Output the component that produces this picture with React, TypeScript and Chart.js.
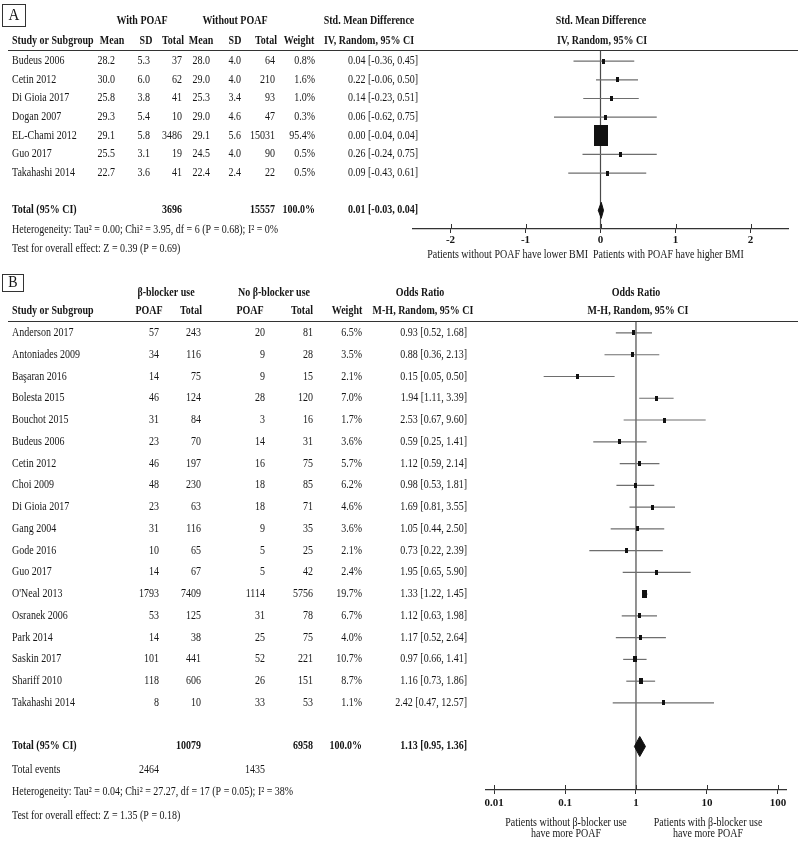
import React, { useEffect, useRef } from 'react';
import { Chart, registerables } from 'chart.js';

Chart.register(...registerables);

const FONT = '"Liberation Serif", "Times New Roman", serif';
const TEXT = '#161616';

// ---------- Panel A data ----------
const studiesA = ['Budeus 2006', 'Cetin 2012', 'Di Gioia 2017', 'Dogan 2007', 'EL-Chami 2012', 'Guo 2017', 'Takahashi 2014'];
const meanWith = [28.2, 30.0, 25.8, 29.3, 29.1, 25.5, 22.7];
const sdWith = [5.3, 6.0, 3.8, 5.4, 5.8, 3.1, 3.6];
const totalWith = [37, 62, 41, 10, 3486, 19, 41];
const meanWithout = [28.0, 29.0, 25.3, 29.0, 29.1, 24.5, 22.4];
const sdWithout = [4.0, 4.0, 3.4, 4.6, 5.6, 4.0, 2.4];
const totalWithout = [64, 210, 93, 47, 15031, 90, 22];
const weightA = [0.8, 1.6, 1.0, 0.3, 95.4, 0.5, 0.5];
const smd = [0.04, 0.22, 0.14, 0.06, 0.0, 0.26, 0.09];
const smdLo = [-0.36, -0.06, -0.23, -0.62, -0.04, -0.24, -0.43];
const smdHi = [0.45, 0.5, 0.51, 0.75, 0.04, 0.75, 0.61];
const totalA = { withN: 3696, withoutN: 15557, weight: 100.0, est: 0.01, lo: -0.03, hi: 0.04 };
const ticksA = [-2, -1, 0, 1, 2];
const hetA = 'Heterogeneity: Tau² = 0.00; Chi² = 3.95, df = 6 (P = 0.68); I² = 0%';
const testA = 'Test for overall effect: Z = 0.39 (P = 0.69)';

// ---------- Panel B data ----------
const studiesB = ['Anderson 2017', 'Antoniades 2009', 'Başaran 2016', 'Bolesta 2015', 'Bouchot 2015', 'Budeus 2006', 'Cetin 2012', 'Choi 2009', 'Di Gioia 2017', 'Gang 2004', 'Gode 2016', 'Guo 2017', "O'Neal 2013", 'Osranek 2006', 'Park 2014', 'Saskin 2017', 'Shariff 2010', 'Takahashi 2014'];
const bbPoaf = [57, 34, 14, 46, 31, 23, 46, 48, 23, 31, 10, 14, 1793, 53, 14, 101, 118, 8];
const bbTotal = [243, 116, 75, 124, 84, 70, 197, 230, 63, 116, 65, 67, 7409, 125, 38, 441, 606, 10];
const noPoaf = [20, 9, 9, 28, 3, 14, 16, 18, 18, 9, 5, 5, 1114, 31, 25, 52, 26, 33];
const noTotal = [81, 28, 15, 120, 16, 31, 75, 85, 71, 35, 25, 42, 5756, 78, 75, 221, 151, 53];
const weightB = [6.5, 3.5, 2.1, 7.0, 1.7, 3.6, 5.7, 6.2, 4.6, 3.6, 2.1, 2.4, 19.7, 6.7, 4.0, 10.7, 8.7, 1.1];
const oddsR = [0.93, 0.88, 0.15, 1.94, 2.53, 0.59, 1.12, 0.98, 1.69, 1.05, 0.73, 1.95, 1.33, 1.12, 1.17, 0.97, 1.16, 2.42];
const oddsLo = [0.52, 0.36, 0.05, 1.11, 0.67, 0.25, 0.59, 0.53, 0.81, 0.44, 0.22, 0.65, 1.22, 0.63, 0.52, 0.66, 0.73, 0.47];
const oddsHi = [1.68, 2.13, 0.5, 3.39, 9.6, 1.41, 2.14, 1.81, 3.55, 2.5, 2.39, 5.9, 1.45, 1.98, 2.64, 1.41, 1.86, 12.57];
const totalB = { bbN: 10079, noN: 6958, weight: 100.0, est: 1.13, lo: 0.95, hi: 1.36, bbEvents: 2464, noEvents: 1435 };
const ticksB = [0.01, 0.1, 1, 10, 100];
const hetB = 'Heterogeneity: Tau² = 0.04; Chi² = 27.27, df = 17 (P = 0.05); I² = 38%';
const testB = 'Test for overall effect: Z = 1.35 (P = 0.18)';

// ---------- helpers ----------
function txt(ctx: CanvasRenderingContext2D, s: string, x: number, y: number, align: CanvasTextAlign = 'left', bold = false, size = 10) {
  ctx.save();
  ctx.font = `${bold ? 'bold ' : ''}${size}px ${FONT}`;
  ctx.fillStyle = TEXT;
  ctx.textAlign = align;
  ctx.textBaseline = 'middle';
  ctx.translate(x, y);
  ctx.scale(1, 1.15);
  ctx.fillText(s, 0, 0);
  ctx.restore();
}

function hline(ctx: CanvasRenderingContext2D, x1: number, x2: number, y: number, color = '#333', w = 1) {
  ctx.save();
  ctx.strokeStyle = color;
  ctx.lineWidth = w;
  ctx.beginPath();
  ctx.moveTo(x1, y);
  ctx.lineTo(x2, y);
  ctx.stroke();
  ctx.restore();
}

function boxImg(weight: number, k: number) {
  const w = Math.max(3, Math.round(k * Math.sqrt(weight)));
  const h = Math.max(4, Math.round(w * 1.5));
  const c = document.createElement('canvas');
  c.width = w;
  c.height = h;
  const g = c.getContext('2d')!;
  g.fillStyle = '#111';
  g.fillRect(0, 0, w, h);
  return c;
}

const f1 = (v: number) => v.toFixed(1);
const f2 = (v: number) => v.toFixed(2);
const ci = (e: number, l: number, h: number) => `${f2(e)} [${f2(l)}, ${f2(h)}]`;

// draws small tick marks above the axis line as well (ticks cross the axis)
const crossTicks = {
  id: 'crossTicks',
  afterDraw(chart: any) {
    const ctx = chart.ctx;
    const xs = chart.scales.x;
    const yb = chart.chartArea.bottom;
    ctx.save();
    ctx.strokeStyle = '#333';
    ctx.lineWidth = 1;
    xs.ticks.forEach((t: any) => {
      const px = Math.round(xs.getPixelForValue(t.value)) + 0.5;
      ctx.beginPath();
      ctx.moveTo(px, yb - 5);
      ctx.lineTo(px, yb);
      ctx.stroke();
    });
    ctx.restore();
  },
};

const tableA = {
  id: 'tableA',
  afterDraw(chart: any) {
    const ctx: CanvasRenderingContext2D = chart.ctx;
    const ys = chart.scales.y;
    const top = chart.chartArea.top;
    ctx.save();
    ctx.strokeStyle = '#333';
    ctx.lineWidth = 1;
    ctx.strokeRect(2.5, 4.5, 23, 22);
    ctx.restore();
    txt(ctx, 'A', 14, 15.5, 'center', false, 15);
    txt(ctx, 'With POAF', 142, 21.5, 'center', true);
    txt(ctx, 'Without POAF', 235, 21.5, 'center', true);
    txt(ctx, 'Std. Mean Difference', 369, 21.5, 'center', true);
    txt(ctx, 'Std. Mean Difference', 601, 21.5, 'center', true);
    const h2 = 41;
    txt(ctx, 'Study or Subgroup', 12, h2, 'left', true);
    txt(ctx, 'Mean', 112, h2, 'center', true);
    txt(ctx, 'SD', 146, h2, 'center', true);
    txt(ctx, 'Total', 173, h2, 'center', true);
    txt(ctx, 'Mean', 201, h2, 'center', true);
    txt(ctx, 'SD', 235, h2, 'center', true);
    txt(ctx, 'Total', 266, h2, 'center', true);
    txt(ctx, 'Weight', 299, h2, 'center', true);
    txt(ctx, 'IV, Random, 95% CI', 369, h2, 'center', true);
    txt(ctx, 'IV, Random, 95% CI', 602, h2, 'center', true);
    hline(ctx, 8, 798, Math.round(top) + 0.5, '#333', 1.2);
    studiesA.forEach((s, i) => {
      const y = ys.getPixelForValue(i);
      txt(ctx, s, 12, y);
      txt(ctx, f1(meanWith[i]), 115, y, 'right');
      txt(ctx, f1(sdWith[i]), 150, y, 'right');
      txt(ctx, String(totalWith[i]), 182, y, 'right');
      txt(ctx, f1(meanWithout[i]), 210, y, 'right');
      txt(ctx, f1(sdWithout[i]), 241, y, 'right');
      txt(ctx, String(totalWithout[i]), 275, y, 'right');
      txt(ctx, f1(weightA[i]) + '%', 315, y, 'right');
      txt(ctx, ci(smd[i], smdLo[i], smdHi[i]), 418, y, 'right');
    });
    const ty = ys.getPixelForValue(studiesA.length + 1);
    txt(ctx, 'Total (95% CI)', 12, ty, 'left', true);
    txt(ctx, String(totalA.withN), 182, ty, 'right', true);
    txt(ctx, String(totalA.withoutN), 275, ty, 'right', true);
    txt(ctx, f1(totalA.weight) + '%', 315, ty, 'right', true);
    txt(ctx, ci(totalA.est, totalA.lo, totalA.hi), 418, ty, 'right', true);
    txt(ctx, hetA, 12, ty + 20);
    txt(ctx, testA, 12, ty + 39);
    txt(ctx, 'Patients without POAF have lower BMI', 588, 255, 'right');
    txt(ctx, 'Patients with POAF have higher BMI', 593, 255, 'left');
  },
};

const tableB = {
  id: 'tableB',
  afterDraw(chart: any) {
    const ctx: CanvasRenderingContext2D = chart.ctx;
    const ys = chart.scales.y;
    const top = chart.chartArea.top;
    ctx.save();
    ctx.strokeStyle = '#333';
    ctx.lineWidth = 1;
    ctx.strokeRect(2.5, 12.5, 21, 17);
    ctx.restore();
    txt(ctx, 'B', 13, 21, 'center', false, 14);
    const h1 = 31;
    txt(ctx, 'β-blocker use', 166, h1, 'center', true);
    txt(ctx, 'No β-blocker use', 274, h1, 'center', true);
    txt(ctx, 'Odds Ratio', 420, h1, 'center', true);
    txt(ctx, 'Odds Ratio', 636, h1, 'center', true);
    const h2 = 49;
    txt(ctx, 'Study or Subgroup', 12, h2, 'left', true);
    txt(ctx, 'POAF', 149, h2, 'center', true);
    txt(ctx, 'Total', 191, h2, 'center', true);
    txt(ctx, 'POAF', 250, h2, 'center', true);
    txt(ctx, 'Total', 302, h2, 'center', true);
    txt(ctx, 'Weight', 347, h2, 'center', true);
    txt(ctx, 'M-H, Random, 95% CI', 423, h2, 'center', true);
    txt(ctx, 'M-H, Random, 95% CI', 638, h2, 'center', true);
    hline(ctx, 8, 798, Math.round(top) + 0.5, '#333', 1.2);
    studiesB.forEach((s, i) => {
      const y = ys.getPixelForValue(i);
      txt(ctx, s, 12, y);
      txt(ctx, String(bbPoaf[i]), 159, y, 'right');
      txt(ctx, String(bbTotal[i]), 201, y, 'right');
      txt(ctx, String(noPoaf[i]), 265, y, 'right');
      txt(ctx, String(noTotal[i]), 313, y, 'right');
      txt(ctx, f1(weightB[i]) + '%', 362, y, 'right');
      txt(ctx, ci(oddsR[i], oddsLo[i], oddsHi[i]), 467, y, 'right');
    });
    const ty = ys.getPixelForValue(studiesB.length + 1);
    txt(ctx, 'Total (95% CI)', 12, ty, 'left', true);
    txt(ctx, String(totalB.bbN), 201, ty, 'right', true);
    txt(ctx, String(totalB.noN), 313, ty, 'right', true);
    txt(ctx, f1(totalB.weight) + '%', 362, ty, 'right', true);
    txt(ctx, ci(totalB.est, totalB.lo, totalB.hi), 467, ty, 'right', true);
    txt(ctx, 'Total events', 12, ty + 24);
    txt(ctx, String(totalB.bbEvents), 159, ty + 24, 'right');
    txt(ctx, String(totalB.noEvents), 265, ty + 24, 'right');
    txt(ctx, hetB, 12, ty + 46);
    txt(ctx, testB, 12, ty + 70);
    txt(ctx, 'Patients without β-blocker use', 566, 561, 'center');
    txt(ctx, 'have more POAF', 566, 572, 'center');
    txt(ctx, 'Patients with β-blocker use', 708, 561, 'center');
    txt(ctx, 'have more POAF', 708, 572, 'center');
  },
};

function forestConfig(opts: {
  names: string[]; est: number[]; lo: number[]; hi: number[]; weights: number[]; k: number;
  total: { est: number; lo: number; hi: number }; ref: number; yMin: number; yMax: number; dh: number;
  xScale: any; padding: any; axisH: number; tickPad: number; tableP: any;
}) {
  const n = opts.names.length;
  const tIdx = n + 1;
  const boxes = opts.weights.map((w) => boxImg(w, opts.k));
  const datasets: any[] = [
    {
      type: 'line',
      order: 10,
      data: [{ x: opts.ref, y: opts.yMin }, { x: opts.ref, y: opts.yMax }],
      borderColor: '#4a4a4a', borderWidth: 1.2, pointRadius: 0, fill: false,
    },
    ...opts.names.map((_, i) => ({
      type: 'line',
      order: 5,
      data: [{ x: opts.lo[i], y: i }, { x: opts.hi[i], y: i }],
      borderColor: '#6e6e6e', borderWidth: 1.2, pointRadius: 0, fill: false,
    })),
    {
      type: 'line',
      order: 1,
      showLine: false,
      data: opts.names.map((_, i) => ({ x: opts.est[i], y: i })),
      pointRadius: 3,
      pointStyle: (c: any) => boxes[c.dataIndex],
    },
    {
      type: 'line',
      order: 0,
      data: [
        { x: opts.total.lo, y: tIdx },
        { x: opts.total.est, y: tIdx - opts.dh },
        { x: opts.total.hi, y: tIdx },
        { x: opts.total.est, y: tIdx + opts.dh },
        { x: opts.total.lo, y: tIdx },
      ],
      borderColor: '#111', backgroundColor: '#111', borderWidth: 1, pointRadius: 0, fill: 'shape', tension: 0,
    },
  ];
  return {
    type: 'line',
    data: { datasets },
    options: {
      responsive: false,
      animation: false,
      events: [],
      layout: { padding: opts.padding },
      plugins: { legend: { display: false }, tooltip: { enabled: false } },
      scales: {
        x: {
          ...opts.xScale,
          position: 'bottom',
          afterFit: (s: any) => { s.height = opts.axisH; },
          grid: { drawOnChartArea: false, drawTicks: true, tickLength: 4, color: '#333', lineWidth: 1 },
          border: { display: true, color: '#333', width: 1.2 },
          ticks: {
            font: { family: FONT, size: 11, weight: 'bold' },
            color: TEXT, padding: opts.tickPad, maxRotation: 0, autoSkip: false,
            callback: (v: any) => String(v),
          },
        },
        y: { type: 'linear', reverse: true, min: opts.yMin, max: opts.yMax, display: false },
      },
    },
    plugins: [crossTicks, opts.tableP],
  };
}

export default function App() {
  const refA = useRef<HTMLCanvasElement>(null);
  const refB = useRef<HTMLCanvasElement>(null);

  useEffect(() => {
    const cfgA: any = forestConfig({
      names: studiesA, est: smd, lo: smdLo, hi: smdHi, weights: weightA, k: 1.43,
      total: totalA, ref: 0, yMin: -0.6, yMax: 9, dh: 0.43,
      xScale: {
        type: 'linear', min: -2.5, max: 2.5,
        afterBuildTicks: (s: any) => { s.ticks = ticksA.map((v) => ({ value: v })); },
      },
      padding: { left: 413, right: 12, top: 50, bottom: 0 }, axisH: 33, tickPad: 1, tableP: tableA,
    });
    const cfgB: any = forestConfig({
      names: studiesB, est: oddsR, lo: oddsLo, hi: oddsHi, weights: weightB, k: 1.2,
      total: totalB, ref: 1, yMin: -0.55, yMax: 21, dh: 0.46,
      xScale: {
        type: 'logarithmic', min: 0.0077, max: 130,
        afterBuildTicks: (s: any) => { s.ticks = ticksB.map((v) => ({ value: v })); },
      },
      padding: { left: 486, right: 14, top: 59, bottom: 0 }, axisH: 52, tickPad: 3, tableP: tableB,
    });
    const a = new Chart(refA.current!, cfgA);
    const b = new Chart(refB.current!, cfgB);
    return () => { a.destroy(); b.destroy(); };
  }, []);

  return (
    <div style={{ position: 'absolute', left: 0, top: 0, width: 800, height: 842, background: '#fff' }}>
      <canvas ref={refA} width={800} height={262} style={{ position: 'absolute', left: 0, top: 0 }} />
      <canvas ref={refB} width={800} height={580} style={{ position: 'absolute', left: 0, top: 262 }} />
    </div>
  );
}
